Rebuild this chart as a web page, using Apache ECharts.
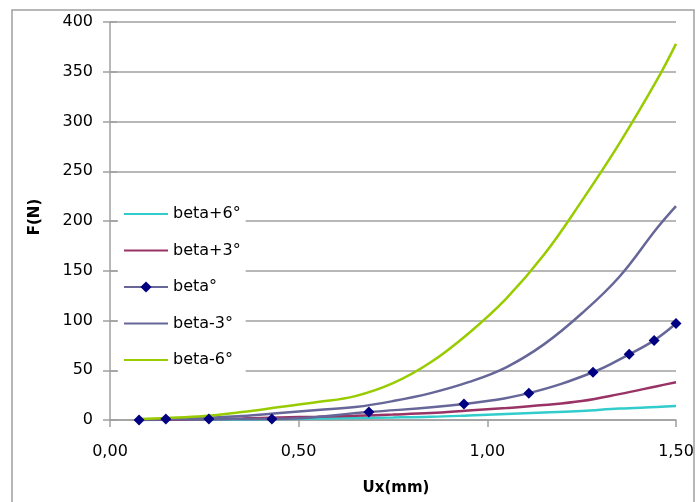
<!DOCTYPE html>
<html>
<head>
<meta charset="utf-8">
<script src="https://cdn.jsdelivr.net/npm/echarts@6/dist/echarts.min.js"></script>
<style>html,body{margin:0;padding:0;background:#fff}#c{width:696px;height:502px}</style>
</head>
<body>
<div id="c"></div>
<script>
// curve sample positions (mm) for the unmarked series
var uxCurve = [0.077, 0.15, 0.25, 0.35, 0.45, 0.55, 0.65, 0.75, 0.85, 0.95, 1.05, 1.15, 1.25, 1.35, 1.45, 1.50];
var betaP6 = [0, 0.1, 0.3, 0.6, 1, 1.5, 2, 2.5, 3.2, 4.5, 6, 7.5, 9, 11.5, 13, 14];
var betaP3 = [0, 0.3, 0.8, 1.5, 2.5, 3.3, 4.3, 5.5, 7, 9.5, 12, 15, 19, 26, 34, 38];
var betaM3 = [0.5, 1, 2, 4, 7, 10, 13, 19, 27, 38, 53, 76, 107, 144, 193, 215];
var betaM6 = [1, 2, 4, 8, 13, 18, 24, 37, 58, 87, 122, 166, 220, 278, 342, 378];
// marker positions (mm) for beta°
var uxMarker = [0.077, 0.148, 0.262, 0.429, 0.686, 0.938, 1.110, 1.280, 1.376, 1.442, 1.500];
var beta0 = [0, 1, 1, 1, 8, 16, 27, 48, 66, 80, 97];
var names = ['beta+6°', 'beta+3°', 'beta°', 'beta-3°', 'beta-6°'];
var xTicks = [0, 0.5, 1.0, 1.5];
var yTicks = [0, 50, 100, 150, 200, 250, 300, 350, 400];

function pairs(xs, ys) { return xs.map(function (x, i) { return [x, ys[i]]; }); }

var font = 'DejaVu Sans, Verdana, sans-serif';
var gray = '#a0a0a0';

var chart = echarts.init(document.getElementById('c'), null, {renderer: 'canvas'});
chart.setOption({
  animation: false,
  backgroundColor: '#fff',
  grid: {left: 110, right: 20, top: 22, bottom: 82, outerBoundsMode: 'none'},
  legend: {
    orient: 'vertical',
    left: 118, top: 201,
    padding: [5, 5, 5, 5],
    backgroundColor: '#fff',
    itemWidth: 44, itemHeight: 14, itemGap: 20.5,
    data: [
      {name: names[0], itemStyle: {opacity: 0}},
      {name: names[1], itemStyle: {opacity: 0}},
      {name: names[2]},
      {name: names[3], itemStyle: {opacity: 0}},
      {name: names[4], itemStyle: {opacity: 0}}
    ],
    textStyle: {fontFamily: font, fontSize: 16, color: '#000'}
  },
  xAxis: {
    type: 'value', min: xTicks[0], max: xTicks[xTicks.length - 1], interval: 0.5,
    position: 'bottom',
    axisLine: {show: true, onZero: false, lineStyle: {color: gray, width: 1.5}},
    axisTick: {show: true, length: 7, lineStyle: {color: gray, width: 1.5}},
    axisLabel: {margin: 32, verticalAlign: 'middle', fontFamily: font, fontSize: 16, color: '#000',
      formatter: function (v) { return v.toFixed(2).replace('.', ','); }},
    splitLine: {show: false}
  },
  yAxis: [{
    type: 'value', min: yTicks[0], max: yTicks[yTicks.length - 1], interval: 50,
    axisLine: {show: true, lineStyle: {color: gray, width: 1.5}},
    axisTick: {show: true, length: 7, lineStyle: {color: gray, width: 1.5}},
    axisLabel: {margin: 17, fontFamily: font, fontSize: 16, color: '#000'},
    splitLine: {show: true, lineStyle: {color: gray, width: 1.5}}
  }, {
    type: 'value', min: yTicks[0], max: yTicks[yTicks.length - 1], interval: 50,
    position: 'left',
    axisLine: {show: false},
    axisTick: {show: true, inside: true, length: 7, lineStyle: {color: gray, width: 1.5}},
    axisLabel: {show: false},
    splitLine: {show: false}
  }],
  series: [
    {name: names[0], type: 'line', data: pairs(uxCurve, betaP6), smooth: 0.4,
      symbol: 'none', lineStyle: {color: '#33cccc', width: 2.5}, itemStyle: {color: '#33cccc'}},
    {name: names[1], type: 'line', data: pairs(uxCurve, betaP3), smooth: 0.4,
      symbol: 'none', lineStyle: {color: '#993366', width: 2.5}, itemStyle: {color: '#993366'}},
    {name: names[2], type: 'line', data: pairs(uxMarker, beta0), smooth: 0.4,
      symbol: 'diamond', symbolSize: 11, showAllSymbol: true,
      lineStyle: {color: '#666699', width: 2.5}, itemStyle: {color: '#000080'}},
    {name: names[3], type: 'line', data: pairs(uxCurve, betaM3), smooth: 0.4,
      symbol: 'none', lineStyle: {color: '#666699', width: 2.5}, itemStyle: {color: '#666699'}},
    {name: names[4], type: 'line', data: pairs(uxCurve, betaM6), smooth: 0.4,
      symbol: 'none', lineStyle: {color: '#99cc00', width: 2.5}, itemStyle: {color: '#99cc00'}}
  ],
  graphic: [
    {type: 'rect', z: 100, silent: true, shape: {x: 12, y: 10, width: 682, height: 510},
      style: {fill: 'none', stroke: gray, lineWidth: 1.5}},
    {type: 'text', z: 100, x: 35, y: 217, rotation: Math.PI / 2,
      style: {text: 'F(N)', font: 'bold 15px ' + font, fill: '#000', textAlign: 'center', textVerticalAlign: 'middle'}},
    {type: 'text', z: 100, x: 396, y: 488,
      style: {text: 'Ux(mm)', font: 'bold 15px ' + font, fill: '#000', textAlign: 'center', textVerticalAlign: 'middle'}}
  ]
});
</script>
</body>
</html>
